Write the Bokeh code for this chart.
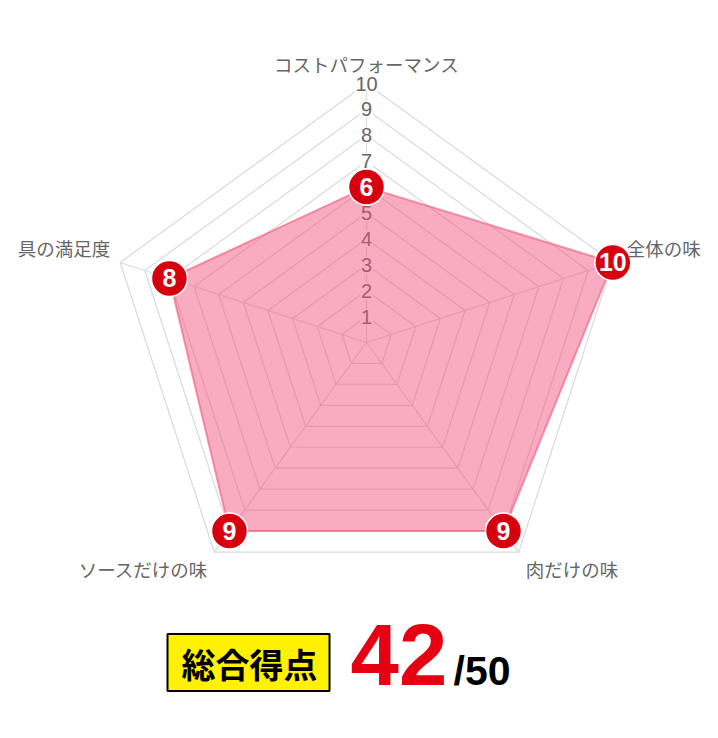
import math
from bokeh.plotting import figure
from bokeh.models import Range1d
from bokeh.core.properties import value
from bokeh.embed import file_html
from bokeh.resources import INLINE

# ---- data ----
categories = ["コストパフォーマンス", "全体の味", "肉だけの味", "ソースだけの味", "具の満足度"]
scores = [6, 10, 9, 9, 8]
tick_values = [1, 2, 3, 4, 5, 6, 7, 8, 9, 10]
tick_labels = ["1", "2", "3", "4", "5", "6", "7", "8", "9", "10"]
max_score = 10
total_title = "総合得点"
total_score = sum(scores)
total_max = max_score * len(categories)

# ---- layout ----
W, H = 702, 722
CX, CY = 366, 342      # picture px of radar centre
U = 25.9               # px per score unit
OX, OY = 0, 0          # picture px of figure's top-left


def dx(sx):
    return (sx - CX) / U


def dy(sy):
    return (CY - sy) / U


p = figure(width=W, height=H,
           x_range=Range1d(dx(OX), dx(OX + W)),
           y_range=Range1d(dy(OY + H), dy(OY)),
           output_backend="svg", toolbar_location=None, min_border=0)
p.axis.visible = False
p.grid.visible = False
p.outline_line_color = None
p.background_fill_color = "white"
p.border_fill_color = "white"

n = len(categories)
angles = [math.pi / 2 - 2 * math.pi * i / n for i in range(n)]
cos_a = [math.cos(a) for a in angles]
sin_a = [math.sin(a) for a in angles]

GRID = "#dadada"
# rings
ring_xs = [[t * c for c in cos_a] + [t * cos_a[0]] for t in tick_values]
ring_ys = [[t * s for s in sin_a] + [t * sin_a[0]] for t in tick_values]
p.multi_line(ring_xs, ring_ys, line_color=GRID, line_width=1.2)
# spokes
p.multi_line([[0, max_score * c] for c in cos_a], [[0, max_score * s] for s in sin_a],
             line_color=GRID, line_width=1.2)

# tick labels with white backdrop
p.text(x=[0] * len(tick_values), y=tick_values, text=tick_labels,
       text_align="center", text_baseline="middle",
       text_font=value("Liberation Sans"), text_font_size="20px",
       text_color="#666666", background_fill_color="white", padding=1)

# data polygon
px = [v * c for v, c in zip(scores, cos_a)]
py = [v * s for v, s in zip(scores, sin_a)]
p.patch(px + [px[0]], py + [py[0]], fill_color="#f3507a", fill_alpha=0.48,
        line_color="#f04c74", line_alpha=0.55, line_width=2)

# point badges
p.scatter(px, py, marker="circle", size=36, fill_color="#d7000f",
          line_color="white", line_width=1.5)
p.text(px, py, text=[str(v) for v in scores], text_align="center",
       text_baseline="middle", text_font=value("Liberation Sans"),
       text_font_style="bold", text_font_size="25px", text_color="white")

# category labels
label_layout = [("center", 0, -20), ("left", 14, -14), ("left", 7, 17),
                ("right", -6, 17), ("right", -10, -14)]
for i, cat in enumerate(categories):
    al, ox, oy = label_layout[i]
    p.text(x=[max_score * cos_a[i]], y=[max_score * sin_a[i]], text=[cat],
           text_align=al, text_baseline="middle", x_offset=ox, y_offset=oy,
           text_font=value("Noto Sans CJK JP"), text_font_size="18.5px",
           text_color="#666666")

# total score block
p.rect(x=[dx(248)], y=[dy(662)], width=162 / U, height=57 / U,
       fill_color="#fff100", line_color="black", line_width=2)
p.text(x=[dx(249)], y=[dy(663)], text=[total_title], text_align="center",
       text_baseline="middle", text_font=value("Noto Sans CJK JP"),
       text_font_style="bold", text_font_size="34px", text_color="black")
p.text(x=[dx(350)], y=[dy(654)], text=[str(total_score)], text_align="left",
       text_baseline="middle", text_font=value("Liberation Sans"),
       text_font_style="bold", text_font_size="87px", text_color="#e50012")
p.text(x=[dx(453)], y=[dy(670)], text=["/" + str(total_max)], text_align="left",
       text_baseline="middle", text_font=value("Liberation Sans"),
       text_font_style="bold", text_font_size="41px", text_color="black")

open("out.html", "w").write(file_html(p, INLINE))
